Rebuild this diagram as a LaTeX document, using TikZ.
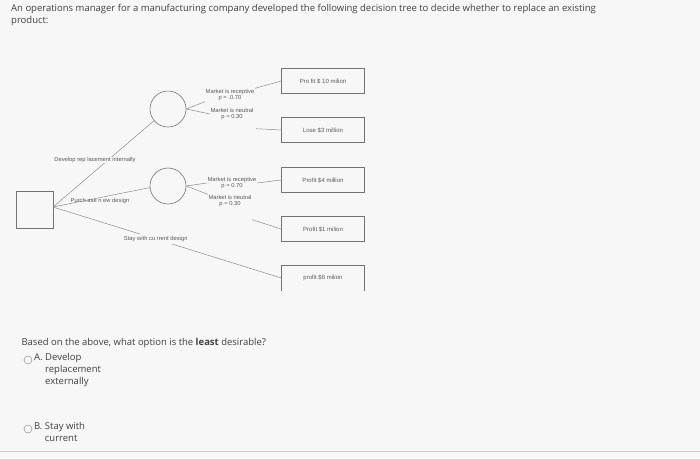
\documentclass[tikz,border=0pt]{standalone}
\usepackage{fontspec}
\setmainfont{Open Sans}
\newfontfamily\dfont{Liberation Sans}
\begin{document}
\begin{tikzpicture}[x=1pt,y=-1pt,
  outbox/.style={draw=black!55,line width=0.6pt,minimum width=83pt,minimum height=25pt,font=\dfont\fontsize{6}{7}\selectfont,text=black!65},
  chance/.style={draw=black!55,line width=0.6pt,circle,minimum size=36pt,inner sep=0pt},
  br/.style={draw=black!45,line width=0.5pt},
  lab/.style={font=\dfont\fontsize{5.8}{6.6}\selectfont,text=black!65,inner sep=0.5pt,align=center},
  qt/.style={font=\fontsize{9.5}{12}\selectfont,text=black!75,anchor=west,align=left}]
\fill[black!3] (0,0) rectangle (700,458);
\useasboundingbox (0,0) rectangle (700,458);
\node[qt,anchor=north west,inner sep=0pt] (q) at (11,4) {An operations manager for a manufacturing company developed the following decision tree to decide whether to replace an existing\\product:};
\node[draw=black!55,line width=0.6pt,minimum size=37pt,inner sep=0pt] (dec) at (35,210) {};
\node[chance] (c1) at (168,109) {};
\node[chance] (c2) at (168,186) {};
\node[outbox] (o1) at (323,81) {Pro fit \$ 10 milion};
\node[outbox] (o2) at (323,130) {Lose \$3 million};
\node[outbox] (o3) at (323,180) {Profit \$4 million};
\node[outbox] (o4) at (323,229) {Profit \$1 milion};
\node[minimum width=83pt,minimum height=25pt,font=\dfont\fontsize{6}{7}\selectfont,text=black!65] (o5) at (323,278) {profit \$6 milion};
\draw[black!55,line width=0.6pt] (o5.south west) -- (o5.north west) -- (o5.north east) -- (o5.south east);
\coordinate (dc) at (53,207);
\draw[br] (dc) -- (c1.220);
\draw[br] (dc) -- (c2.185);
\draw[br] (dc) -- (o5.west) node[pos=0.45,lab,fill=black!3,inner sep=2pt] (sl) {Stay with cu rrent design};
\node[lab,fill=black!3] (l1) at (95,160) {Develop rep lacement internally};
\node[lab] (l2) at (100,201) {Purch ase n ew design};
\node[lab] (r1) at (230,95) {Market is receptive\\p = .0.70};
\node[lab] (n1) at (232,114) {Market is neutral\\p = 0.30};
\node[lab] (r2) at (232,183) {Market is receptive\\p = 0.70};
\node[lab] (n2) at (230,201) {Market is neutral\\p = 0.30};
\draw[br] (c1.east) -- (r1.south west);
\draw[br] (c1.east) -- (n1.west);
\draw[br] (r1.north east) -- (o1.west);
\draw[br] (n1.south east)++(2,8) coordinate (n1e) -- (o2.west);
\draw[br] (c2.east) -- (r2.west);
\draw[br] (c2.east) -- (n2.north west);
\draw[br] (r2.east) -- (o3.west);
\draw[br] (n2.south east)++(0,12) coordinate (n2e) -- (o4.west);
\node[qt] (bq) at (18,343) {Based on the above, what option is the \textbf{least} desirable?};
\node[draw=black!50,circle,minimum size=8pt,inner sep=0pt] (ra) at (28,360) {};
\node[qt,anchor=north west,inner sep=0pt] (ta) at (34,353) {A.\ Develop\\\hphantom{A.\ }replacement\\\hphantom{A.\ }externally};
\node[draw=black!50,circle,minimum size=8pt,inner sep=0pt] (rb) at (28,429) {};
\node[qt,anchor=north west,inner sep=0pt] (tb) at (34,422) {B.\ Stay with\\\hphantom{B.\ }current};
\draw[black!20] (0,451) -- (700,451);
\end{tikzpicture}
\end{document}
